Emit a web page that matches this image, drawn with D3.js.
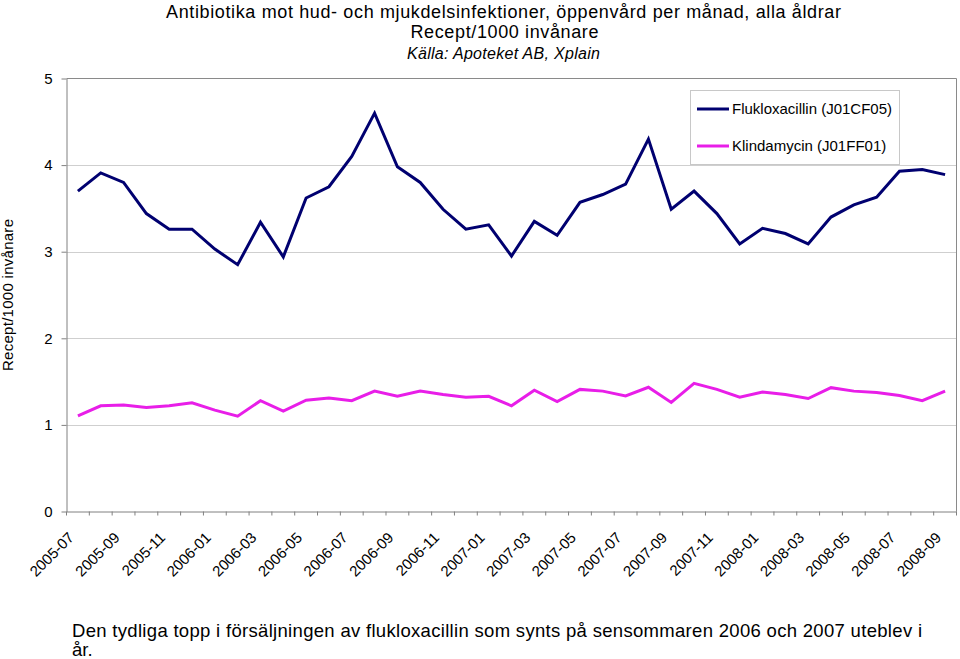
<!DOCTYPE html>
<html><head><meta charset="utf-8">
<script src="https://cdn.jsdelivr.net/npm/d3@7"></script>
<style>body{margin:0;background:#fff}svg{display:block;font-family:"Liberation Sans",Arial,sans-serif}</style>
</head><body>
<svg id="c" width="960" height="659"></svg>
<script>
const months = ["2005-07","2005-08","2005-09","2005-10","2005-11","2005-12",
"2006-01","2006-02","2006-03","2006-04","2006-05","2006-06","2006-07","2006-08","2006-09","2006-10","2006-11","2006-12",
"2007-01","2007-02","2007-03","2007-04","2007-05","2007-06","2007-07","2007-08","2007-09","2007-10","2007-11","2007-12",
"2008-01","2008-02","2008-03","2008-04","2008-05","2008-06","2008-07","2008-08","2008-09"];
const fluklox = [3.70,3.91,3.80,3.44,3.26,3.26,3.03,2.85,3.34,2.94,3.62,3.75,4.10,4.60,3.98,3.80,3.49,3.26,3.31,2.95,
3.35,3.19,3.57,3.66,3.78,4.30,3.49,3.70,3.44,3.09,3.27,3.21,3.09,3.40,3.54,3.63,3.93,3.95,3.89];
const klinda = [1.105,1.22,1.23,1.20,1.22,1.255,1.17,1.10,1.28,1.16,1.285,1.31,1.28,1.39,1.33,1.39,1.35,1.32,1.33,1.22,
1.40,1.27,1.41,1.39,1.335,1.435,1.26,1.48,1.41,1.32,1.38,1.35,1.305,1.43,1.39,1.375,1.34,1.28,1.39];
const yTicks = [0,1,2,3,4,5];
const seriesNames = ["Flukloxacillin (J01CF05)","Klindamycin (J01FF01)"];
const seriesColors = ["#000070","#e81ee8"];
const titleLines = ["Antibiotika mot hud- och mjukdelsinfektioner, öppenvård per månad, alla åldrar","Recept/1000 invånare","Källa: Apoteket AB, Xplain"];
const yLabel = "Recept/1000 invånare";
const footer = ["Den tydliga topp i försäljningen av flukloxacillin som synts på sensommaren 2006 och 2007 uteblev i","år."];

const svg = d3.select("#c");
const L=66.5, R=956.5, T=78.5, B=511.5;
const x = d3.scaleBand().domain(months).range([L,R]);
const y = d3.scaleLinear().domain([0,5]).range([B,T]);

// grid
svg.append("g").selectAll("line").data(yTicks.filter(d=>d>0&&d<5)).join("line")
 .attr("x1",L).attr("x2",R).attr("y1",d=>Math.round(y(d))+0.5).attr("y2",d=>Math.round(y(d))+0.5)
 .attr("stroke","#cfcfcf").attr("stroke-width",1);
// border top/right
svg.append("path").attr("d",`M${L},${T}H${R}V${B}`).attr("fill","none").attr("stroke","#8a8a8a").attr("stroke-width",1);

// y axis
const ya = svg.append("g").attr("transform",`translate(${L},0)`)
 .call(d3.axisLeft(y).tickValues(yTicks).tickSize(5).tickSizeOuter(0).tickFormat(d3.format("d")));
ya.select(".domain").attr("stroke","#808080");
ya.selectAll(".tick line").attr("stroke","#808080");
ya.selectAll(".tick text").attr("font-size",15).attr("fill","#000").attr("font-family","Liberation Sans, Arial").attr("x",-14);

// x axis
const xa = svg.append("g").attr("transform",`translate(0,${B})`)
 .call(d3.axisBottom(x).tickSize(0).tickFormat(""));
xa.select(".domain").attr("stroke","#808080");
xa.selectAll(".tick").remove();
svg.append("g").selectAll("line").data(months.concat(["end"])).join("line")
 .attr("x1",(d,i)=>L+i*x.step()).attr("x2",(d,i)=>L+i*x.step())
 .attr("y1",B).attr("y2",B+4).attr("stroke","#808080");
svg.append("g").selectAll("text").data(months.filter((d,i)=>i%2===0)).join("text")
 .attr("transform",d=>`translate(${x(d)+x.bandwidth()/2-3},${B+27}) rotate(-45)`)
 .attr("text-anchor","end").attr("font-size",15).text(d=>d);

// lines
const line = d3.line().x((d,i)=>x(months[i])+x.bandwidth()/2).y(d=>y(d));
[fluklox,klinda].forEach((s,k)=>{
 svg.append("path").datum(s).attr("d",line).attr("fill","none").attr("stroke",seriesColors[k])
  .attr("stroke-width",3).attr("stroke-linejoin","miter");
});

// legend
const lg = svg.append("g");
lg.append("rect").attr("x",690.5).attr("y",90.5).attr("width",209).attr("height",74).attr("fill","#fff").attr("stroke","#c8c8c8");
seriesNames.forEach((n,i)=>{
 const yy = 109 + i*37;
 lg.append("line").attr("x1",697).attr("x2",729).attr("y1",yy).attr("y2",yy).attr("stroke",seriesColors[i]).attr("stroke-width",3);
 lg.append("text").attr("x",732).attr("y",yy+5).attr("font-size",15).text(n);
});

// titles
svg.append("text").attr("x",503.5).attr("y",18).attr("text-anchor","middle").attr("font-size",18)
 .attr("textLength",675).attr("lengthAdjust","spacing").text(titleLines[0]);
svg.append("text").attr("x",504.5).attr("y",38).attr("text-anchor","middle").attr("font-size",18)
 .attr("textLength",188).attr("lengthAdjust","spacing").text(titleLines[1]);
svg.append("text").attr("x",503.5).attr("y",59).attr("text-anchor","middle").attr("font-size",16).attr("font-style","italic")
 .attr("textLength",193).attr("lengthAdjust","spacing").text(titleLines[2]);

// y label
svg.append("text").attr("transform","translate(13,295) rotate(-90)").attr("text-anchor","middle").attr("font-size",15)
 .attr("textLength",152).attr("lengthAdjust","spacing").text(yLabel);

// footer
svg.append("text").attr("x",72).attr("y",637).attr("font-size",18.5)
 .attr("textLength",850).attr("lengthAdjust","spacing").text(footer[0]);
svg.append("text").attr("x",72).attr("y",656).attr("font-size",18.5).text(footer[1]);
</script>
</body></html>
